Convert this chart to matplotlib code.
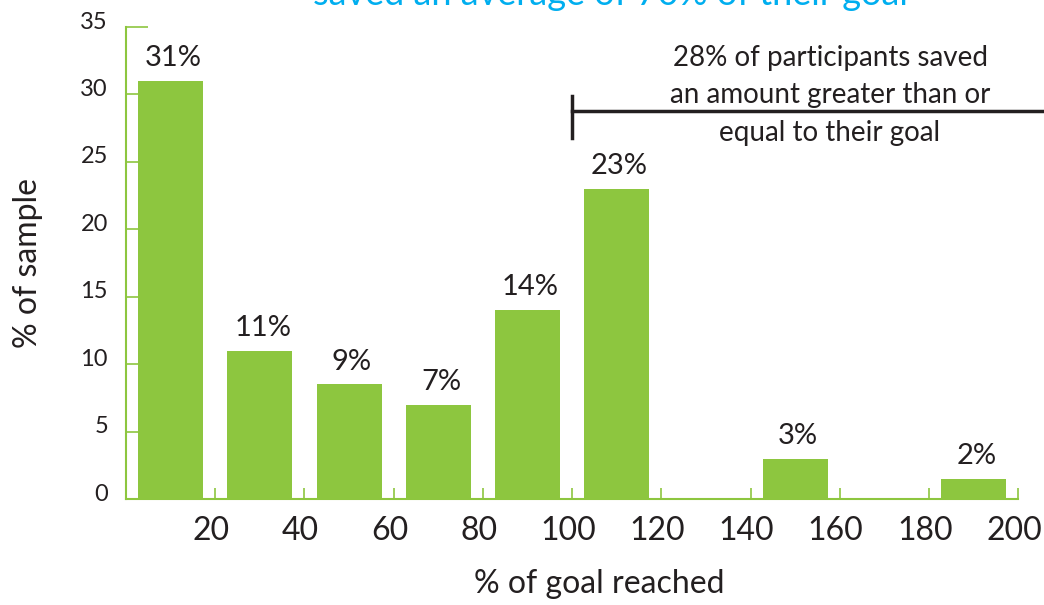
import matplotlib.pyplot as plt
import matplotlib.transforms as mtransforms

plt.rcParams["font.family"] = ["Lato", "DejaVu Sans"]

bin_centers = [10, 30, 50, 70, 90, 110, 130, 150, 170, 190]
pct_sample = [31, 11, 8.5, 7, 14, 23, 0, 3, 0, 1.5]
bar_labels = ["31%", "11%", "9%", "7%", "14%", "23%", "", "3%", "", "2%"]
x_ticks = [20, 40, 60, 80, 100, 120, 140, 160, 180, 200]
y_ticks = [0, 5, 10, 15, 20, 25, 30, 35]

GREEN = "#8dc63f"
DARK = "#231f20"

fig = plt.figure(figsize=(10.44, 6.05), dpi=100)
ax = fig.add_axes([0.1207, 0.1752, 0.8547, 0.7802])

ax.bar(bin_centers, pct_sample, width=14.6, color=GREEN)
for x, h, lab in zip(bin_centers, pct_sample, bar_labels):
    if lab:
        ax.annotate(lab, (x, h), xytext=(2, 7), textcoords="offset points",
                    ha="center", va="bottom", fontsize=21, color=DARK)

ax.set_xlim(0, 200)
ax.set_ylim(0, 35)
ax.set_xticks(x_ticks)
ax.set_yticks(y_ticks)

for s in ["top", "right"]:
    ax.spines[s].set_visible(False)
for s in ["left", "bottom"]:
    ax.spines[s].set_color(GREEN)
    ax.spines[s].set_linewidth(1.5)

ax.tick_params(axis="x", direction="in", length=8, width=1.2, color=GREEN,
               labelsize=23, labelcolor=DARK, pad=12)
ax.tick_params(axis="y", direction="in", length=16, width=1.2, color=GREEN,
               labelsize=17, labelcolor=DARK, pad=13)
off = mtransforms.ScaledTranslation(0, 5 / 72, fig.dpi_scale_trans)
for t in ax.get_yticklabels():
    t.set_transform(t.get_transform() + off)
offx = mtransforms.ScaledTranslation(-3 / 72, 0, fig.dpi_scale_trans)
for t in ax.get_xticklabels():
    t.set_transform(t.get_transform() + offx)

ax.set_xlabel("% of goal reached", fontsize=23, color=DARK, labelpad=17)
ax.xaxis.label.set_x(0.53)
ax.set_ylabel("% of sample", fontsize=23, color=DARK, labelpad=27)

# bracket for >= 100%
ax.plot([100, 225], [28.8, 28.8], color=DARK, lw=2.5, clip_on=False)
ax.plot([100, 100], [26.8, 29.9], color=DARK, lw=2.5, clip_on=False)
ax.text(157.8, 29.95, "28% of participants saved\nan amount greater than or\nequal to their goal",
        ha="center", va="center", fontsize=20, color=DARK, linespacing=1.55)

fig.text(0.585, 0.992, "saved an average of 70% of their goal", ha="center",
         va="baseline", fontsize=26, color="#00aeef")

fig.savefig("out.png", dpi=100)
